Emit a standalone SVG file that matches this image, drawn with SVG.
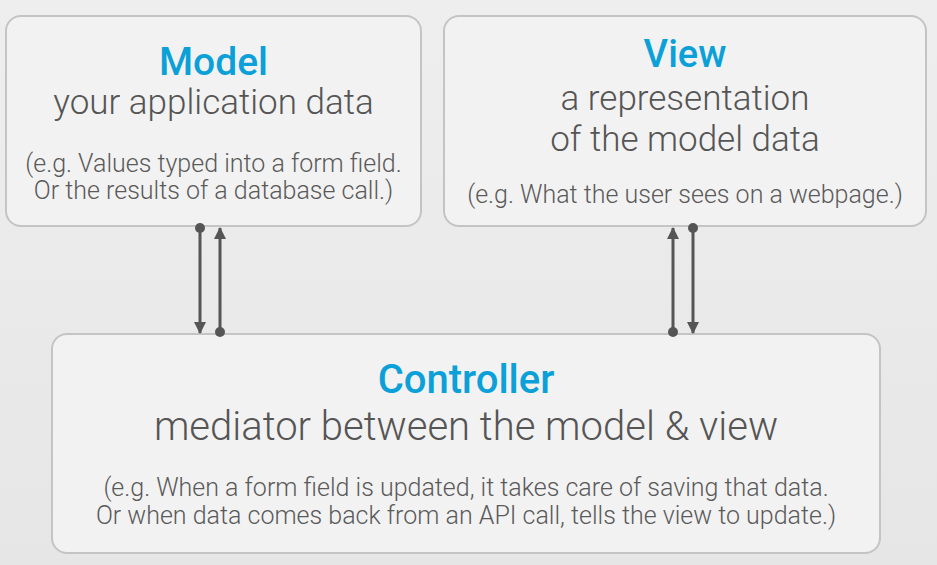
<svg xmlns="http://www.w3.org/2000/svg" width="937" height="565" viewBox="0 0 937 565">
<defs>
<linearGradient id="bg" x1="0" y1="0" x2="0" y2="1">
<stop offset="0" stop-color="#eeeeee"/>
<stop offset="1" stop-color="#e6e6e6"/>
</linearGradient>
<marker id="arr" viewBox="0 0 12 12" refX="11" refY="6" markerWidth="12" markerHeight="12" markerUnits="userSpaceOnUse" orient="auto">
<path d="M0,0 L12,6 L0,12 z" fill="#555"/>
</marker>
<marker id="dot" viewBox="0 0 10 10" refX="5" refY="5" markerWidth="10" markerHeight="10" markerUnits="userSpaceOnUse">
<circle cx="5" cy="5" r="5" fill="#555"/>
</marker>
<style>
.box{fill:#f2f2f2;stroke:#c4c4c4;stroke-width:2}
.t{font-family:Roboto,"Liberation Sans",sans-serif;text-anchor:middle}
.title{font-weight:500;fill:#0ba0d8}
.sub{font-family:"Roboto Light",Roboto,"Liberation Sans",sans-serif;font-weight:300;fill:#555}
.det{font-family:"Roboto Light",Roboto,"Liberation Sans",sans-serif;font-weight:300;fill:#5a5a5a}
.c{stroke:#555;stroke-width:3;fill:none;marker-start:url(#dot);marker-end:url(#arr)}
</style>
</defs>
<rect width="937" height="565" fill="url(#bg)"/>
<g id="model">
<rect class="box" x="6" y="16" width="415" height="210" rx="15"/>
<text class="t title" x="213.5" y="75" font-size="39">Model</text>
<text class="t sub" x="213.5" y="114" font-size="35">your application data</text>
<text class="t det" x="213.5" y="172" font-size="25">(e.g. Values typed into a form field.</text>
<text class="t det" x="213.5" y="199" font-size="25">Or the results of a database call.)</text>
</g>
<g id="view">
<rect class="box" x="444" y="16" width="482" height="210" rx="15"/>
<text class="t title" x="685" y="67" font-size="38">View</text>
<text class="t sub" x="685" y="110" font-size="35">a representation</text>
<text class="t sub" x="685" y="151" font-size="35">of the model data</text>
<text class="t det" x="685" y="203" font-size="25">(e.g. What the user sees on a webpage.)</text>
</g>
<g id="controller">
<rect class="box" x="52" y="334" width="828" height="219" rx="15"/>
<text class="t title" x="466" y="393" font-size="40">Controller</text>
<text class="t sub" x="466" y="440" font-size="40">mediator between the model &amp; view</text>
<text class="t det" x="466" y="496" font-size="25">(e.g. When a form field is updated, it takes care of saving that data.</text>
<text class="t det" x="466" y="524" font-size="25">Or when data comes back from an API call, tells the view to update.)</text>
</g>
<g id="connectors">
<path class="c" d="M200,228 V333"/>
<path class="c" d="M220,332 V228"/>
<path class="c" d="M673,332 V228"/>
<path class="c" d="M693,228 V333"/>
</g>
</svg>
